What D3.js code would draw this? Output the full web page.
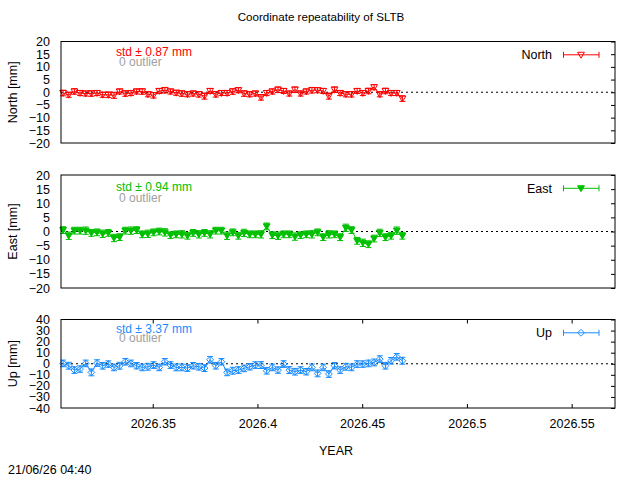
<!DOCTYPE html>
<html><head><meta charset="utf-8">
<script src="https://cdn.jsdelivr.net/npm/d3@7/dist/d3.min.js"></script>
<style>
html,body{margin:0;padding:0;background:#fff;}
text{font-family:"Liberation Sans",Arial,Helvetica,sans-serif;}
</style></head>
<body><svg id="c" width="640" height="480"></svg>
<script>
// ---- data ----
const years = [2026.3072,2026.3099,2026.3126,2026.3153,2026.3180,2026.3207,2026.3234,2026.3261,2026.3288,2026.3315,
2026.3342,2026.3369,2026.3396,2026.3423,2026.3450,2026.3477,2026.3504,2026.3531,2026.3558,2026.3585,
2026.3612,2026.3639,2026.3666,2026.3693,2026.3720,2026.3747,2026.3774,2026.3801,2026.3828,2026.3855,
2026.3882,2026.3909,2026.3936,2026.3963,2026.3990,2026.4017,2026.4044,2026.4071,2026.4098,2026.4125,
2026.4152,2026.4179,2026.4206,2026.4233,2026.4260,2026.4287,2026.4314,2026.4341,2026.4368,2026.4395,
2026.4422,2026.4449,2026.4476,2026.4503,2026.4530,2026.4557,2026.4584,2026.4611,2026.4638,2026.4665,2026.4692];
const north = [-0.3,-1,0.3,-0.3,-0.5,-0.5,-0.3,-1,-1,-1.2,0.3,-0.5,-0.3,0.3,0.3,-0.8,-1.2,0.5,0.8,0.3,-0.2,-0.5,-0.8,-0.5,-0.8,
-1.5,0.5,-0.8,-0.3,-0.3,0.3,0.8,-0.5,-0.8,-0.5,-2,-0.3,0.3,1,0.5,-0.5,1,-0.5,0.3,0.8,0.8,0.5,-1.5,1,-0.3,-0.8,-0.8,0.5,-0.3,0.5,2,-0.8,0.5,-0.3,-0.3,-2.5];
const northErr = [1.1,1.0,1.1,1.0,1.0,1.1,1.0,1.0,1.1,1.2,1.0,1.1,1.0,1.0,1.1,1.0,1.1,1.0,1.1,1.0,1.0,1.1,1.0,1.0,1.1,
1.2,1.0,1.1,1.0,1.0,1.1,1.0,1.1,1.0,1.0,1.1,1.0,1.0,1.1,1.0,1.0,1.1,1.0,1.0,1.1,1.0,1.0,1.2,1.1,1.0,1.0,1.1,1.0,1.0,1.1,1.0,1.0,1.1,1.0,1.0,1.1];
const east = [0.5,-1.5,0.3,0.3,0.3,-0.5,-0.3,-0.8,-0.5,-2.3,-2.0,0.3,0.3,0.5,-1,-0.8,-0.3,0,-0.3,-1.3,-1,-1,-1.5,-0.5,-1,
-0.5,-1,0.3,0.3,-1.5,-0.3,-1.5,-0.5,-1,-1,-1,1.8,-1.3,-1.5,-1,-1,-1.8,-1.3,-1,-1,-0.3,-2,-1,-1,-2,1.3,0.5,-3.3,-4,-4.5,-2.5,-0.5,-2,-1.5,0.3,-1.5];
const eastErr = [1.2,1.3,1.2,1.2,1.3,1.2,1.2,1.3,1.2,1.3,1.2,1.2,1.3,1.2,1.2,1.3,1.2,1.2,1.3,1.2,1.2,1.3,1.2,1.2,1.3,
1.2,1.3,1.2,1.2,1.3,1.2,1.2,1.3,1.2,1.2,1.3,1.2,1.2,1.3,1.2,1.2,1.3,1.2,1.2,1.3,1.2,1.2,1.3,1.2,1.2,1.3,1.2,1.2,1.3,1.2,1.2,1.3,1.2,1.2,1.3,1.2];
const up = [0.3,-1.8,-5.7,-4.8,0.3,-7.8,0.6,-1.8,-0.3,-3.3,-1.8,1.8,0.3,-1.8,-3.3,-2.7,-1.2,-3.3,1.8,-1.2,-3.3,-3.3,-3.9,-1.8,-2.7,
-3.9,3.6,-1.8,1.8,-7.8,-6.3,-5.7,-4.2,-2.7,-1.2,-1.2,-6.3,-3.3,-5.7,-0.3,-5.7,-7.2,-5.7,-7.2,-3.3,-8.7,-3.3,-9.3,-1.8,-5.7,-2.7,-3.3,-0.3,-0.3,0.3,1.2,4.2,-1.8,2.7,6.3,2.7];
const upErr = [3.0,3.1,3.0,2.9,3.0,3.1,3.0,3.0,2.9,3.0,3.1,3.0,3.0,2.9,3.0,3.1,3.0,3.0,2.9,3.0,3.1,3.0,3.0,2.9,3.0,
3.1,3.0,3.0,2.9,3.0,3.1,3.0,3.0,2.9,3.0,3.1,3.0,3.0,2.9,3.0,3.1,3.0,3.0,2.9,3.0,3.1,3.0,3.0,2.9,3.0,3.1,3.0,3.0,2.9,3.0,3.1,3.0,3.0,2.9,3.0,3.1];
const xTicks = [2026.35, 2026.4, 2026.45, 2026.5, 2026.55];
const xTickLabels = ["2026.35","2026.4","2026.45","2026.5","2026.55"];
const ticksNE = [20,15,10,5,0,-5,-10,-15,-20];
const ticksUp = [40,30,20,10,0,-10,-20,-30,-40];
const seriesNames = ["North","East","Up"];
const stdTexts = ["std \u00b1 0.87 mm","std \u00b1 0.94 mm","std \u00b1 3.37 mm"];
const outlierTexts = ["0 outlier","0 outlier","0 outlier"];
const titleText = "Coordinate repeatability of SLTB";
const dateText = "21/06/26 04:40";

// ---- layout ----
const svg = d3.select("#c");
const L = 61, R = 615;
const x = d3.scaleLinear().domain([2026.3062, 2026.5707]).range([L, R]);
const panels = [
  {name:"North", vals:north, err:northErr, top:41.5, bot:143, dom:[-20,20], ticks:ticksNE, color:"#ff0000", sym:"tri-open", std:stdTexts[0], out:outlierTexts[0], ylab:"North [mm]", sy:14, oy:24.5},
  {name:"East",  vals:east,  err:eastErr,  top:175,  bot:288, dom:[-20,20], ticks:ticksNE, color:"#00c000", sym:"tri-fill", std:stdTexts[1], out:outlierTexts[1], ylab:"East [mm]", sy:15.5, oy:26.5},
  {name:"Up",    vals:up,    err:upErr,    top:319.5,bot:408, dom:[-40,40], ticks:ticksUp, color:"#1a8cff", sym:"diamond", std:stdTexts[2], out:outlierTexts[2], ylab:"Up [mm]", sy:13, oy:22.5}
];
const FS = "12.5px";

svg.append("text").attr("x",321).attr("y",21).attr("text-anchor","middle").style("font-size","11.6px").text(titleText);
svg.append("text").attr("x",8).attr("y",474).style("font-size",FS).text(dateText);
svg.append("text").attr("x",336).attr("y",455).attr("text-anchor","middle").style("font-size",FS).text("YEAR");

function symbol(g, type, cx, cy, color){
  const s = 3.4;
  if(type==="diamond"){
    g.append("path").attr("d",`M${cx},${cy-s}L${cx+s},${cy}L${cx},${cy+s}L${cx-s},${cy}Z`)
     .attr("fill","none").attr("stroke",color).attr("stroke-width",1);
  } else {
    g.append("path").attr("d",`M${cx-s},${cy-s*0.75}L${cx+s},${cy-s*0.75}L${cx},${cy+s}Z`)
     .attr("fill", type==="tri-fill"?color:"none").attr("stroke",color).attr("stroke-width",1);
  }
}

panels.forEach((p,pi)=>{
  const y = d3.scaleLinear().domain(p.dom).range([p.bot, p.top]);
  const g = svg.append("g");
  g.append("line").attr("x1",L).attr("x2",R).attr("y1",y(0)).attr("y2",y(0))
   .attr("stroke","#000").attr("stroke-width",1.2).attr("stroke-dasharray","2,3");
  const ay = g.append("g").attr("transform",`translate(${L},0)`)
    .call(d3.axisLeft(y).tickValues(p.ticks).tickSize(0).tickPadding(11).tickFormat(d3.format("d")));
  ay.select(".domain").remove();
  ay.selectAll("text").style("font-size",FS).style("font-family","Liberation Sans, Arial, sans-serif").attr("fill","#000");
  const ayr = g.append("g").attr("transform",`translate(${R},0)`)
    .call(d3.axisLeft(y).tickValues(p.ticks).tickSize(4).tickFormat(""));
  ayr.select(".domain").remove();
  ayr.selectAll("line").attr("stroke","#000");
  if(pi===2){
    const ax = g.append("g").attr("transform",`translate(0,${p.bot})`)
      .call(d3.axisBottom(x).tickValues(xTicks).tickSizeInner(-4).tickSizeOuter(0).tickPadding(11)
        .tickFormat((d,i)=>xTickLabels[i]));
    ax.select(".domain").remove();
    ax.selectAll("text").style("font-size",FS).style("font-family","Liberation Sans, Arial, sans-serif");
    const axt = g.append("g").attr("transform",`translate(0,${p.top})`)
      .call(d3.axisTop(x).tickValues(xTicks).tickSizeInner(-4).tickSizeOuter(0).tickFormat(""));
    axt.select(".domain").remove();
  }
  svg.append("text").attr("transform",`translate(17,${(p.top+p.bot)/2}) rotate(-90)`)
    .attr("text-anchor","middle").style("font-size",FS).text(p.ylab);
  g.append("text").attr("x",116).attr("y",p.top+p.sy).attr("fill",p.color).style("font-size","12px").text(p.std);
  g.append("text").attr("x",119).attr("y",p.top+p.oy).attr("fill","#a0a0a0").style("font-size","12px").text(p.out);
  const data = years.map((t,i)=>({t, v:p.vals[i], e:p.err[i]}));
  const dg = g.append("g");
  dg.append("path").datum(data)
    .attr("d", d3.line().x(d=>x(d.t)).y(d=>y(d.v)))
    .attr("fill","none").attr("stroke",p.color).attr("stroke-width",1);
  data.forEach(d=>{
    const cx = x(d.t), y1 = y(d.v+d.e), y2 = y(d.v-d.e);
    dg.append("line").attr("x1",cx).attr("x2",cx).attr("y1",y1).attr("y2",y2).attr("stroke",p.color).attr("stroke-width",1);
    dg.append("line").attr("x1",cx-3).attr("x2",cx+3).attr("y1",y1).attr("y2",y1).attr("stroke",p.color).attr("stroke-width",1);
    dg.append("line").attr("x1",cx-3).attr("x2",cx+3).attr("y1",y2).attr("y2",y2).attr("stroke",p.color).attr("stroke-width",1);
    symbol(dg, p.sym, cx, y(d.v), p.color);
  });
  const ly = p.top + 13.3;
  g.append("text").attr("x",552).attr("y",ly+4.5).attr("text-anchor","end").style("font-size",FS).text(p.name);
  g.append("line").attr("x1",563.5).attr("x2",599).attr("y1",ly).attr("y2",ly).attr("stroke",p.color);
  g.append("line").attr("x1",563.5).attr("x2",563.5).attr("y1",ly-3).attr("y2",ly+3).attr("stroke",p.color);
  g.append("line").attr("x1",599).attr("x2",599).attr("y1",ly-3).attr("y2",ly+3).attr("stroke",p.color);
  symbol(g, p.sym, 581, ly, p.color);
  g.append("rect").attr("x",L).attr("y",p.top).attr("width",R-L).attr("height",p.bot-p.top)
   .attr("fill","none").attr("stroke","#000").attr("stroke-width",1);
});
</script></body></html>
